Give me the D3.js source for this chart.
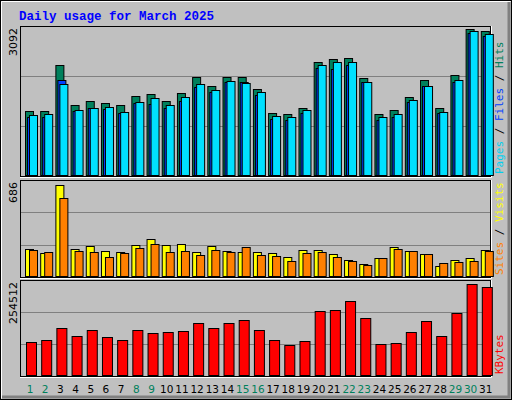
<!DOCTYPE html><html><head><script src="https://cdn.jsdelivr.net/npm/d3@7"></script>
<style>body{margin:0;background:#fff}</style></head><body><svg id="c" width="512" height="400"></svg>
<script>
const days=d3.range(1,32);
const weekend=[1,2,8,9,15,16,22,23,29,30];
const hits=[1340,1340,2288,1463,1546,1505,1463,1649,1690,1546,1711,2041,1855,2041,2041,1793,1299,1278,1402,2350,2412,2432,2020,1278,1360,1628,1979,1402,2082,3030,2989];
const files=[1216,1216,1979,1340,1402,1381,1299,1505,1484,1402,1546,1835,1731,1938,1938,1670,1175,1154,1299,2226,2206,2288,1938,1154,1216,1525,1855,1299,1938,2948,2886];
const pages=[1257,1278,1896,1360,1402,1422,1319,1525,1608,1463,1628,1896,1773,1958,1917,1731,1237,1216,1360,2288,2350,2350,1938,1216,1278,1567,1855,1319,1979,2989,2927];
const visits=[198,170,651,198,219,184,177,226,269,226,233,177,219,184,177,177,170,141,191,191,163,120,92,134,212,184,163,78,120,134,191];
const sites=[191,177,559,184,177,141,170,205,233,177,184,156,191,177,212,156,148,113,170,177,141,113,85,134,198,184,163,99,106,113,184];
const kbytes=[88990,94330,126370,105010,121030,102340,94330,121030,113020,115690,118360,139720,126370,139720,147720,121030,94330,80980,91660,171750,174420,198450,153060,83650,86320,115690,145050,105010,166410,243830,235820];
const maxLabels=["3092","686","254512"];

const svg=d3.select("#c");
svg.append("rect").attr("x",0).attr("y",0).attr("width",512).attr("height",400).attr("fill","#c0c0c0");
svg.append("rect").attr("x",0.5).attr("y",0.5).attr("width",511).attr("height",399).attr("fill","none").attr("stroke","#000");
svg.append("path").attr("d","M1.5,398.5V1.5H510.5").attr("stroke","#fff").attr("fill","none");
svg.append("path").attr("d","M2,397H509V2").attr("stroke","#808080").attr("stroke-width",3).attr("fill","none");
svg.append("text").attr("x",19).attr("y",20).attr("fill","#0000ff").attr("font-family","Liberation Mono").attr("font-weight","bold").attr("font-size",12.5).text("Daily usage for March 2025");

const x=d3.scaleBand().domain(days).range([20,491]).paddingInner(0).paddingOuter(0);
const bx=d=>25+15*(d-1);
const x0=d=>x(d)+ (x.bandwidth()-15)/2+5-5;

function panel(top,bottom,max,series,labelText,legend){
  const y=d3.scaleLinear().domain([0,max]).range([bottom,top]);
  svg.append("rect").attr("x",20.5).attr("y",top+0.5).attr("width",470).attr("height",bottom-top).attr("fill","#c0c0c0").attr("stroke","#000");
  svg.append("path").attr("d",`M491.5,${top}V${bottom+1.5}H20`).attr("stroke","#fff").attr("fill","none");
  [1/3,2/3].forEach(f=>svg.append("line").attr("x1",21).attr("x2",490).attr("y1",Math.round(y(max*f))+0.5).attr("y2",Math.round(y(max*f))+0.5).attr("stroke","#808080"));
  series.forEach(s=>{
    svg.append("g").selectAll("rect").data(s.data).join("rect")
      .attr("x",(v,i)=>x(days[i])+5+s.off+0.5).attr("width",s.w).attr("y",v=>Math.round(y(v))+0.5)
      .attr("height",v=>bottom-Math.round(y(v))-1).attr("fill",s.color).attr("stroke","#000");
  });
  svg.append("text").attr("transform",`translate(17,${top+2}) rotate(-90)`).attr("text-anchor","end")
    .attr("font-family","DejaVu Sans").attr("font-size",11).text(labelText);
  const t=svg.append("text").attr("transform",`translate(503,${bottom-2}) rotate(-90)`)
    .attr("font-family","DejaVu Sans Mono").attr("font-size",11);
  legend.forEach((l,i)=>{ if(i>0) t.append("tspan").attr("fill","#000").text("/"); t.append("tspan").attr("fill",l[1]).text(l[0]);});
}
panel(26,176,3092,[{data:hits,color:"#00805c",off:0,w:8},{data:files,color:"#0040ff",off:2,w:8},{data:pages,color:"#00e0ff",off:4,w:8}],maxLabels[0],[["Pages ","#00d0f0"],[" Files ","#0040ff"],[" Hits","#00805c"]]);
panel(180,277,686,[{data:visits,color:"#ffff00",off:0,w:8},{data:sites,color:"#ff8000",off:4,w:8}],maxLabels[1],[["Sites ","#ff8000"],[" Visits","#ffff00"]]);
panel(280,376,254512,[{data:kbytes,color:"#ff0000",off:1,w:10}],maxLabels[2],[["KBytes","#ff0000"]]);

svg.append("g").selectAll("text").data(days).join("text").attr("x",d=>x(d)+5+5).attr("y",393).attr("text-anchor","middle")
  .attr("font-family","DejaVu Sans").attr("font-size",10.5).attr("fill",d=>weekend.includes(d)?"#00805c":"#000").text(d=>d);
</script></body></html>
